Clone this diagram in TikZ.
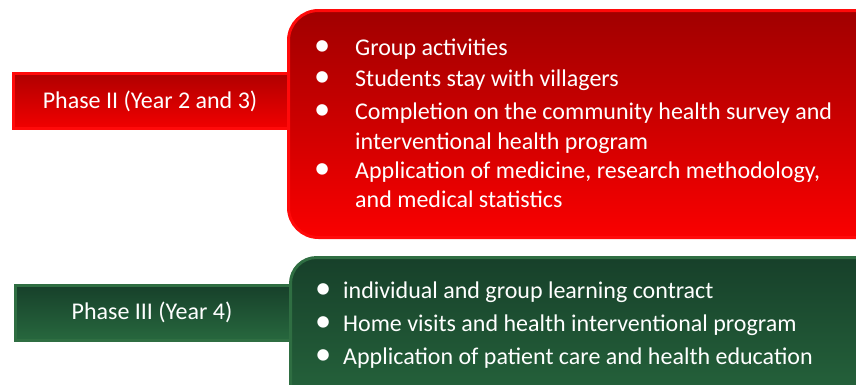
\documentclass[tikz,border=0pt]{standalone}
\usepackage{fontspec}
\usepackage{graphicx}
\setmainfont{Carlito}
\definecolor{redtop}{HTML}{A00000}
\definecolor{redbot}{HTML}{FA0000}
\definecolor{redline}{HTML}{FF0A0A}
\definecolor{lredtop}{HTML}{B00000}
\definecolor{lredbot}{HTML}{F20000}
\definecolor{grntop}{HTML}{17402A}
\definecolor{grnbot}{HTML}{27683E}
\definecolor{grnline}{HTML}{2F6E42}
\tikzset{
  redlabel/.style={draw=redline, line width=3pt, top color=lredtop, bottom color=lredbot, rectangle, inner sep=0pt},
  redbox/.style={draw=redline, line width=3pt, top color=redtop, bottom color=redbot, rectangle, rounded corners=30pt, inner sep=0pt},
  grnlabel/.style={draw=grnline, line width=3pt, top color=grntop, bottom color=grnbot, rectangle, inner sep=0pt},
  grnbox/.style={draw=grnline, line width=3pt, top color=grntop, bottom color=grnbot, rectangle, rounded corners=26pt, inner sep=0pt},
  txt/.style={text=white, font=\fontsize{24}{28}\selectfont, inner sep=0pt},
}
\newcommand{\bul}{\makebox[0pt]{\raisebox{-0.6pt}{\scalebox{1.35}{\textbullet}}}}
\begin{document}
\begin{tikzpicture}[x=1pt,y=-1pt]
\useasboundingbox (0,0) rectangle (856,384);
\clip (0,0) rectangle (856,384);
% red phase
\node[redlabel, minimum width=290pt, minimum height=55pt, anchor=north west] (rlab) at (12,72) {};
\node[redbox, minimum width=600pt, minimum height=227pt, anchor=north west] (rbox) at (287,9) {};
\node[txt, anchor=base] (rlabtxt) at (150,108) {Phase II (Year 2 and 3)};
\node[txt, anchor=base west] (rtext) at (322,55) {\begin{tabular}[t]{@{}l@{}}
\bul\hspace{33pt}Group activities\\[3pt]
\bul\hspace{33pt}Students stay with villagers\\[5pt]
\bul\hspace{33pt}Completion on the community health survey and\\[2pt]
\hspace{33pt}interventional health program\\[1pt]
\bul\hspace{33pt}Application of medicine, research methodology,\\[1pt]
\hspace{33pt}and medical statistics
\end{tabular}};
% green phase
\node[grnlabel, minimum width=290pt, minimum height=55pt, anchor=north west] (glab) at (14,284) {};
\node[grnbox, minimum width=600pt, minimum height=160pt, anchor=north west] (gbox) at (289,256) {};
\node[txt, anchor=base] (glabtxt) at (152,319) {Phase III (Year 4)};
\node[txt, anchor=base west] (gtext) at (323,298) {\begin{tabular}[t]{@{}l@{}}
\bul\hspace{20pt}individual and group learning contract\\[5pt]
\bul\hspace{20pt}Home visits and health interventional program\\[5pt]
\bul\hspace{20pt}Application of patient care and health education
\end{tabular}};
\end{tikzpicture}
\end{document}
